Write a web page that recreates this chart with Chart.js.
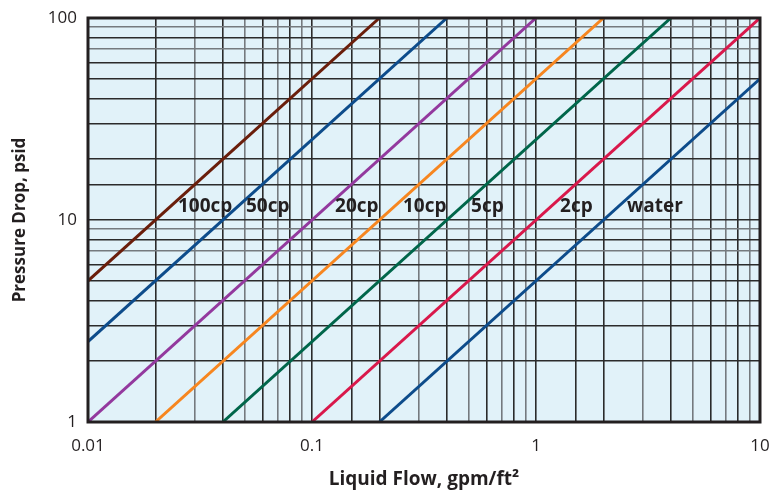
<!DOCTYPE html>
<html>
<head>
<meta charset="utf-8">
<script src="https://cdn.jsdelivr.net/npm/chart.js@4"></script>
<style>
  body { margin: 0; background: #fff; }
  #wrap { width: 770px; height: 491px; }
</style>
</head>
<body>
<div id="wrap"><canvas id="dropChart" width="770" height="491"></canvas></div>
<script>
// viscosity curves, straight lines on log-log paper
const seriesNames = ['100cp', '50cp', '20cp', '10cp', '5cp', '2cp', 'water'];
const flowStart = [0.01, 0.01, 0.01, 0.02, 0.04, 0.1, 0.2];
const dropStart = [5, 2.5, 1, 1, 1, 1, 1];
const flowEnd = [0.2, 0.4, 1, 2, 4, 10, 10];
const dropEnd = [100, 100, 100, 100, 100, 100, 50];
const lineColors = ['#6a1e0b', '#0d4c8b', '#93399e', '#f7861f', '#00664a', '#d9184b', '#0d4c8b'];

// where the curve names sit (left edge, in data units)
const labelFlow = [0.0252, 0.0507, 0.1267, 0.2546, 0.513, 1.28, 2.55];
const labelDrop = 11.7;

const xTickLabels = [0.01, 0.1, 1, 10];
const yTickLabels = [1, 10, 100];

document.addEventListener("DOMContentLoaded", function () {
  const ctx = document.getElementById('dropChart');

  const datasets = seriesNames.map(function (name, i) {
    return {
      label: name,
      data: [{ x: flowStart[i], y: dropStart[i] }, { x: flowEnd[i], y: dropEnd[i] }],
      borderColor: lineColors[i],
      borderWidth: 3,
      showLine: true,
      pointRadius: 0,
      fill: false
    };
  });

  function mant(v) {
    return Math.round(v / Math.pow(10, Math.floor(Math.log10(v) + 1e-9)));
  }

  const plotFrame = {
    id: 'plotFrame',
    beforeDraw(chart) {
      const a = chart.chartArea, c = chart.ctx;
      c.save();
      c.fillStyle = '#e1f2f9';
      c.fillRect(a.left, a.top, a.right - a.left, a.bottom - a.top);
      c.restore();
    },
    afterDatasetsDraw(chart) {
      const a = chart.chartArea, c = chart.ctx;
      const xs = chart.scales.x, ys = chart.scales.y;
      c.save();
      c.font = 'bold 19px "Open Sans"';
      c.fillStyle = '#231f20';
      c.textBaseline = 'middle';
      c.textAlign = 'left';
      seriesNames.forEach(function (name, i) {
        c.fillText(name, xs.getPixelForValue(labelFlow[i]), ys.getPixelForValue(labelDrop));
      });
      c.strokeStyle = '#231f20';
      c.lineWidth = 3;
      c.strokeRect(a.left, a.top, a.right - a.left, a.bottom - a.top);
      c.restore();
    }
  };

  new Chart(ctx, {
    type: 'scatter',
    data: { datasets: datasets },
    options: {
      responsive: false,
      animation: false,
      layout: { padding: { top: 18, right: 10, left: 0, bottom: 0 } },
      plugins: { legend: { display: false }, tooltip: { enabled: false } },
      scales: {
        x: {
          type: 'logarithmic',
          min: 0.01,
          max: 10,
          afterFit: function (s) { s.height = 69; s.paddingLeft = 0; s.paddingRight = 0; },
          grid: {
            drawTicks: false,
            lineWidth: 1.6,
            color: function (c) {
              const m = mant(c.tick.value);
              return [3, 5, 7, 9].includes(m) ? '#757a7e' : '#2b2b2b';
            }
          },
          border: { display: false },
          ticks: {
            autoSkip: false,
            maxRotation: 0,
            padding: 14,
            color: '#231f20',
            font: { family: 'Open Sans', size: 17 },
            callback: function (v) {
              return xTickLabels.some(t => Math.abs(t - v) < t * 1e-6) ? String(v) : '';
            }
          },
          title: {
            display: true,
            text: 'Liquid Flow, gpm/ft²',
            color: '#231f20',
            font: { family: 'Open Sans', size: 19, weight: 'bold' },
            padding: { top: 6, bottom: 0 }
          }
        },
        y: {
          type: 'logarithmic',
          min: 1,
          max: 100,
          afterFit: function (s) { s.width = 88; s.paddingTop = 0; s.paddingBottom = 0; },
          grid: {
            drawTicks: false,
            lineWidth: 1.6,
            color: function (c) {
              const m = mant(c.tick.value);
              return [7, 9].includes(m) ? '#757a7e' : '#2b2b2b';
            }
          },
          border: { display: false },
          ticks: {
            autoSkip: false,
            padding: 11,
            color: '#231f20',
            font: { family: 'Open Sans', size: 17 },
            callback: function (v) {
              return yTickLabels.some(t => Math.abs(t - v) < t * 1e-6) ? String(v) : '';
            }
          },
          title: {
            display: true,
            text: 'Pressure Drop, psid',
            color: '#231f20',
            font: { family: 'Open Sans', size: 17, weight: 'bold' },
            padding: { top: 10, bottom: 0 }
          }
        }
      }
    },
    plugins: [plotFrame]
  });
});
</script>
</body>
</html>
